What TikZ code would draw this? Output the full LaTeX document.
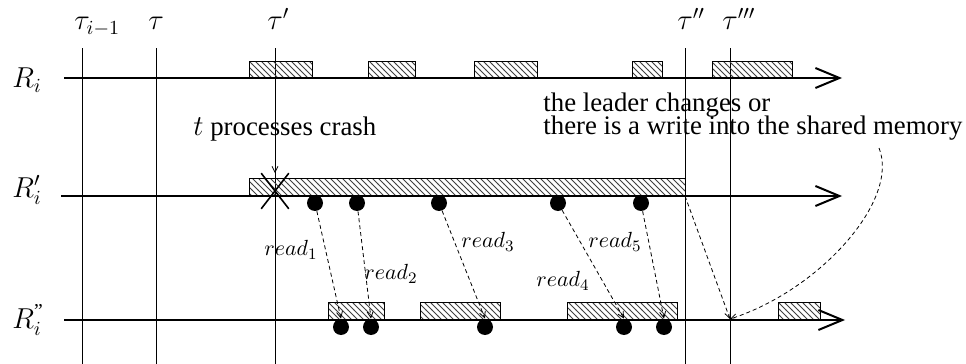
\documentclass[tikz,border=0pt]{standalone}
\usepackage{amsmath}
\usepackage{fontspec}
\setmainfont{Liberation Serif}
\usetikzlibrary{arrows.meta,patterns,shapes.misc,positioning}

\tikzset{
  timeline/.style={line width=1pt, -{Straight Barb[length=12pt,width=10pt,line width=1pt]}},
  slot/.style={draw, line width=0.4pt, pattern=north west lines, pattern color=black!75},
  readdot/.style={circle, fill=black, inner sep=0pt, minimum size=8pt},
  readarrow/.style={dash pattern=on 2pt off 1.5pt, line width=0.4pt, -{Straight Barb[length=3pt,width=3pt]}},
  txt/.style={anchor=base west, inner sep=0pt, font=\fontsize{13.4}{15}\selectfont},
  axlabel/.style={anchor=base west, inner sep=0pt, font=\fontsize{14}{16}\selectfont}
}

\begin{document}
\begin{tikzpicture}[x=0.5pt, y=-0.5pt, font=\fontsize{11}{13}\selectfont]
\useasboundingbox (0,0) rectangle (966,364);
\foreach \x/\name/\n in {82/{\tau_{i-1}}/a,156/\tau/b,275/\tau'/c,685/\tau''/d,730/\tau'''/e}{\draw[line width=0.5pt] (\x,48) -- (\x,364); \node[axlabel] (tau\n) at (\x-8,30) {$\name$};}
\node[axlabel] (ri) at (12,88) {$R_i$};
\node[axlabel] (rip) at (12,197) {$R'_i$};
\node[axlabel] (ripp) at (12,328) {$R_i^{\text{''}}$};
\foreach \a/\b in {249/312,368/415,474/537,632/662,712/792}{\path[slot] (\a,61) rectangle (\b,78);}
\path[slot] (249,178) rectangle (685,196);
\foreach \a/\b in {328/384,420/500,567/677,778/820}{\path[slot] (\a,302) rectangle (\b,320);}
\draw[timeline] (64,78) -- (842,78);
\draw[timeline] (61,196) -- (842,196);
\draw[timeline] (64,320) -- (845,320);
\foreach \n/\x in {1/315,2/357,3/439,4/558,5/641}{\node[readdot] (w\n) at (\x,203) {};}
\foreach \n/\x in {1/341,2/371,3/485,4/624,5/664}{\node[readdot] (v\n) at (\x,327) {};}
\foreach \n in {1,...,5}{\draw[readarrow] (w\n) -- (v\n.north);}
\foreach \n/\x/\y in {1/291/250,2/391/274,3/488/242,4/563/281,5/615/242}{\node (read\n) at (\x,\y) {$read_{\n}$};}
\node[cross out, draw, line width=0.8pt, minimum width=13pt, minimum height=17pt, inner sep=0pt] (crash) at (275,191) {};
\node[txt] (crashtxt) at (193,135) {$t$ processes crash};
\draw[readarrow, shorten <=1pt] (crash.north |- crashtxt.south) -- (crash.north);
\node[txt] (leader) at (543,112) {the leader changes or};
\node[txt] (write) at (543,134) {there is a write into the shared memory};
\coordinate (cs) at (879,148);
\coordinate (rend) at (685,196);
\coordinate (tip) at (730,319);
\draw[readarrow] (rend) -- (tip);
\draw[readarrow] (cs) .. controls (900,200) and (820,290) .. (tip);
\end{tikzpicture}
\end{document}
